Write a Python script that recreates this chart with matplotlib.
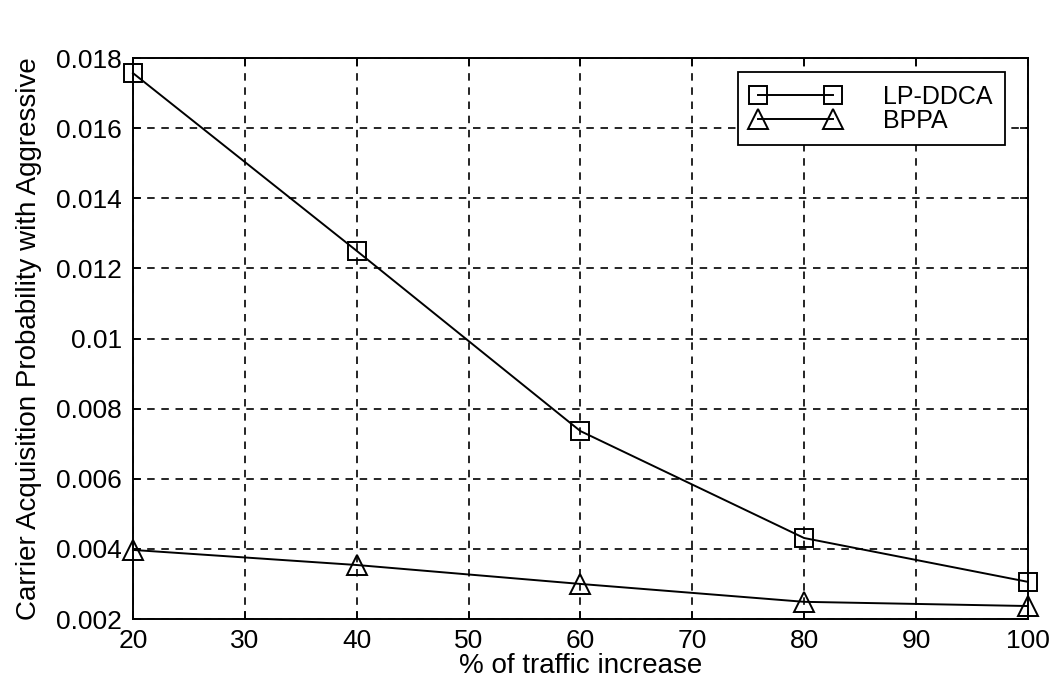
import matplotlib
matplotlib.use("Agg")
import matplotlib.pyplot as plt

plt.rcParams['font.family'] = ['Liberation Sans', 'DejaVu Sans']

# Data ---------------------------------------------------------------------
traffic = [20, 40, 60, 80, 100]
lp_ddca = [0.01757, 0.0125, 0.00736, 0.00431, 0.00306]
bppa = [0.00397, 0.00354, 0.0030, 0.00249, 0.00237]
x_ticks = [20, 30, 40, 50, 60, 70, 80, 90, 100]
y_ticks = [0.002, 0.004, 0.006, 0.008, 0.01, 0.012, 0.014, 0.016, 0.018]
y_tick_labels = ['0.002', '0.004', '0.006', '0.008', '0.01', '0.012', '0.014', '0.016', '0.018']

# Plot ---------------------------------------------------------------------
fig = plt.figure(figsize=(10.52, 6.8), dpi=100)
ax = fig.add_axes([0.1264, 0.0897, 0.8506, 0.825])

ax.plot(traffic, lp_ddca, color='black', lw=1.4, marker='s', markersize=13,
        markerfacecolor='none', markeredgecolor='black', markeredgewidth=1.4,
        label='LP-DDCA', clip_on=False, zorder=3)
ax.plot(traffic, bppa, color='black', lw=1.4, marker='^', markersize=14,
        markerfacecolor='none', markeredgecolor='black', markeredgewidth=1.4,
        label='BPPA', clip_on=False, zorder=3)

ax.set_xlim(20, 100)
ax.set_ylim(0.002, 0.018)
ax.set_xticks(x_ticks)
ax.set_yticks(y_ticks)
ax.set_yticklabels(y_tick_labels)
ax.tick_params(direction='in', length=6, width=1.2, labelsize=19, colors='black',
               top=True, right=True)
ax.tick_params(axis='x', pad=7)
ax.tick_params(axis='y', pad=8)
ax.grid(True, color='black', linestyle=(0, (4.5, 4)), linewidth=1.2)
for s in ax.spines.values():
    s.set_linewidth(1.4)

ax.set_xlabel('% of traffic increase', fontsize=20, labelpad=0)
ax.set_ylabel('Carrier Acquisition Probability with Aggressive', fontsize=20, labelpad=10)

leg = ax.legend(loc='upper right', bbox_to_anchor=(0.974, 0.975), numpoints=2,
                fontsize=18, frameon=True, fancybox=False, handlelength=3.6,
                labelspacing=0.0, borderpad=0.5, handletextpad=1.7,
                borderaxespad=0.0)
leg.get_frame().set_edgecolor('black')
leg.get_frame().set_linewidth(1.3)
leg.get_frame().set_alpha(1)

fig.savefig('out.png', dpi=100)
